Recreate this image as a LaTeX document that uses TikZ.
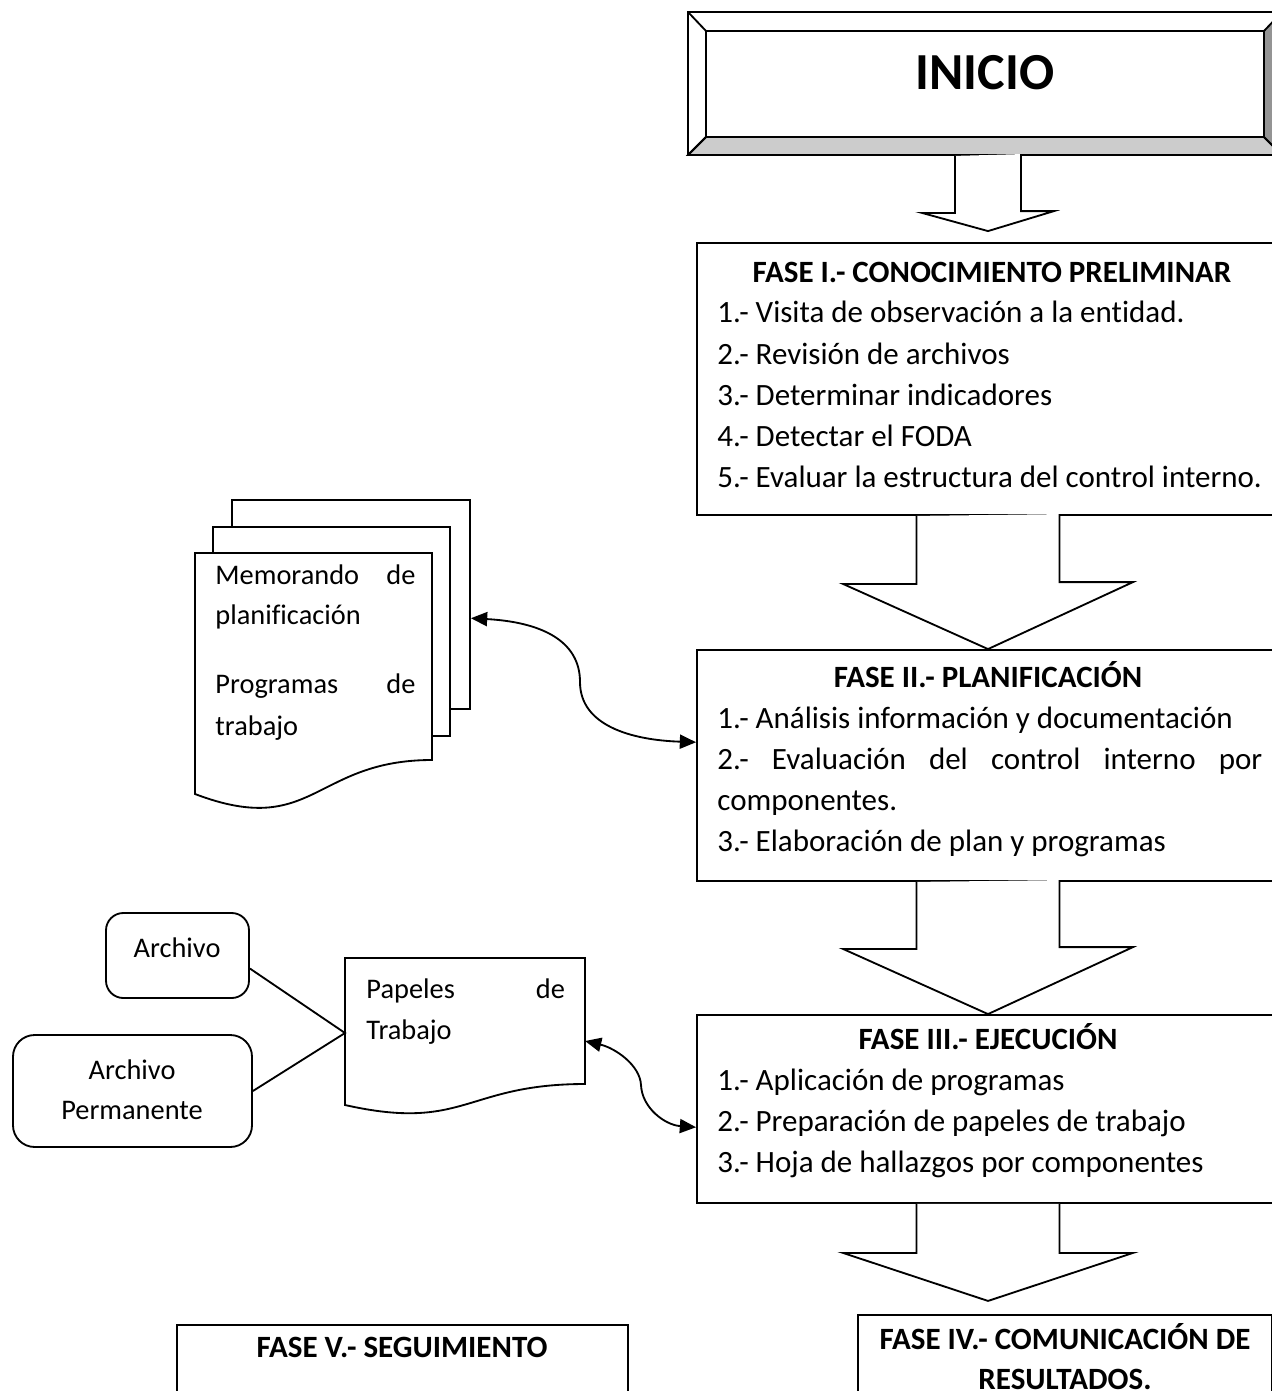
\documentclass[tikz,border=0pt]{standalone}
\usepackage{fontspec}
\setmainfont{Carlito}[Ligatures=NoCommon]
\usetikzlibrary{arrows.meta,calc,fit}

\tikzset{
  pix/.style={x=0.4615pt,y=-0.4615pt},
  fasebox/.style={draw,line width=0.85pt,inner sep=0pt},
  roundbox/.style={fasebox,rounded corners=8pt},
  txt/.style={inner sep=0pt,font=\fontsize{14.3}{17}\selectfont,text height=9pt,text depth=0pt},
  itemtxt/.style={txt,anchor=west},
  titletxt/.style={txt,font=\fontsize{14.3}{17}\selectfont\bfseries},
  sidetxt/.style={txt,font=\fontsize{13.1}{16}\selectfont,text height=8.3pt},
  blockarrow/.style={draw,line width=0.85pt,fill=white,line join=miter},
  link/.style={draw,line width=0.85pt},
  dblarrow/.style={link,{Triangle[length=7.5pt,width=6.5pt]}-{Triangle[length=7.5pt,width=6.5pt]}},
}

\begin{document}
\begin{tikzpicture}[pix]
\useasboundingbox (0,0) rectangle (1271,1391);

% inicio
\node[fasebox,fit={(688,12) (1282,155)}] (inicio) {};
\filldraw[line width=0.85pt,fill=black!20] (688,155) -- (706,137) -- (1264,137) -- (1282,155) -- cycle;
\filldraw[line width=0.85pt,fill=black!42] (1282,12) -- (1264,31) -- (1264,137) -- (1282,155) -- cycle;
\draw[line width=0.85pt] (688,12) -- (706,31) (688,155) -- (706,137);
\node[fasebox,fit={(706,31) (1264,137)}] (inicioin) {};
\node[titletxt,font=\fontsize{24}{28}\selectfont\bfseries,text height=15pt] (iniciotxt) at (985,73) {INICIO};

% fase I
\node[fasebox,fit={(697,243) (1279,515)}] (f1) {};
\node[titletxt] (f1t) at (992,273) {FASE I.- CONOCIMIENTO PRELIMINAR};
\foreach \t [count=\i] in {1.- Visita de observación a la entidad.,2.- Revisión de archivos,3.- Determinar indicadores,4.- Detectar el FODA,5.- Evaluar la estructura del control interno.}
  \node[itemtxt] (f1i\i) at (717,272+41.2*\i) {\t};

% fase II
\node[fasebox,fit={(697,650) (1279,881)}] (f2) {};
\node[titletxt] (f2t) at (988,678) {FASE II.- PLANIFICACIÓN};
\node[itemtxt] (f2i1) at (717,719) {1.- Análisis información y documentación};
\node[itemtxt,text width=251.5pt] (f2i2) at (717,760) {2.-\hfill Evaluación\hfill del\hfill control\hfill interno\hfill por};
\node[itemtxt] (f2i3) at (717,801) {componentes.};
\node[itemtxt] (f2i4) at (717,842) {3.- Elaboración de plan y programas};

% fase III
\node[fasebox,fit={(697,1015) (1279,1203)}] (f3) {};
\node[titletxt] (f3t) at (988,1040) {FASE III.- EJECUCIÓN};
\foreach \t [count=\i] in {1.- Aplicación de programas,2.- Preparación de papeles de trabajo,3.- Hoja de hallazgos por componentes}
  \node[itemtxt] (f3i\i) at (717,1040+41*\i) {\t};

% fase IV y V
\node[fasebox,fit={(858,1315) (1272,1460)}] (f4) {};
\node[titletxt] (f4t) at (1065,1340) {FASE IV.- COMUNICACIÓN DE};
\node[titletxt] (f4t2) at (1065,1380) {RESULTADOS.};
\node[fasebox,fit={(177,1325) (628,1460)}] (f5) {};
\node[titletxt] (f5t) at (402,1348) {FASE V.- SEGUIMIENTO};

% flechas huecas
\draw[blockarrow] ($(f1.north |- inicio.south)+(-33,0)$) -- ++(0,57) -- ++(-33,0) -- ($(f1.north)+(0,-11)$) -- ++(66,-20) -- ++(-33,0) -- ++(0,-57);
\draw[blockarrow] ($(f1.south)+(-71.5,0)$) -- ++(0,68) -- ++(-73.5,0) -- (f2.north) -- ++(145,-67) -- ++(-73.5,0) -- ++(0,-68);
\draw[blockarrow] ($(f2.south)+(-71.5,0)$) -- ++(0,67) -- ++(-73.5,0) -- (f3.north) -- ++(145,-67) -- ++(-73.5,0) -- ++(0,-67);
\coordinate (f4tip) at ($(f3.south)+(0,97)$);
\draw[blockarrow] ($(f3.south)+(-71.5,0)$) -- ++(0,49) -- ++(-73.5,0) -- (f4tip) -- ++(145,-48) -- ++(-73.5,0) -- ++(0,-49);

% memorando
\node[fasebox,fill=white,fit={(232,500) (470,709)}] (memo3) {};
\node[fasebox,fill=white,fit={(213,527) (450,736)}] (memo2) {};
\draw[line width=0.85pt,fill=white] (195,553) -- (432,553) -- (432,760) .. controls (313.5,760) and (313.5,839) .. (195,794) -- cycle;
\node[sidetxt,anchor=west,text width=92.3pt] (memot1) at (215,576) {Memorando\hfill de};
\node[sidetxt,anchor=west] (memot2) at (215,616) {planificación};
\node[sidetxt,anchor=west,text width=92.3pt] (memot3) at (215,685) {Programas\hfill de};
\node[sidetxt,anchor=west] (memot4) at (215,726) {trabajo};

% papeles de trabajo
\draw[line width=0.85pt,fill=white] (345,958) -- (585,958) -- (585,1084) .. controls (465,1084) and (465,1132) .. (345,1105) -- cycle;
\node[sidetxt,anchor=west,text width=91.6pt] (pap1) at (366,989) {Papeles\hfill de};
\node[sidetxt,anchor=west] (pap2) at (366,1030) {Trabajo};
\coordinate (papL) at (345,1033);
\coordinate (papR) at (585,1041);

% archivos
\node[roundbox,fit={(106,913) (249,998)}] (arch) {};
\node[sidetxt] (archt) at (177,948) {Archivo};
\node[roundbox,rounded corners=10pt,fit={(13,1035) (252,1147)}] (perm) {};
\node[sidetxt] (permt1) at (132,1070) {Archivo};
\node[sidetxt] (permt2) at (132,1110) {Permanente};
\draw[link] ($(arch.south east)!0.35!(arch.north east)$) -- (papL) -- (perm.east);

% flechas dobles
\draw[dblarrow] ($(memo3.north east)!0.565!(memo3.south east)$) .. controls (540,622) and (580,640) .. (580,682) .. controls (580,725) and (630,740) .. ($(f2.north west)!0.40!(f2.south west)$);
\draw[dblarrow] (papR) .. controls (615,1048) and (640,1065) .. (641,1085) .. controls (642,1108) and (665,1125) .. ($(f3.north west)!0.596!(f3.south west)$);
\end{tikzpicture}
\end{document}
